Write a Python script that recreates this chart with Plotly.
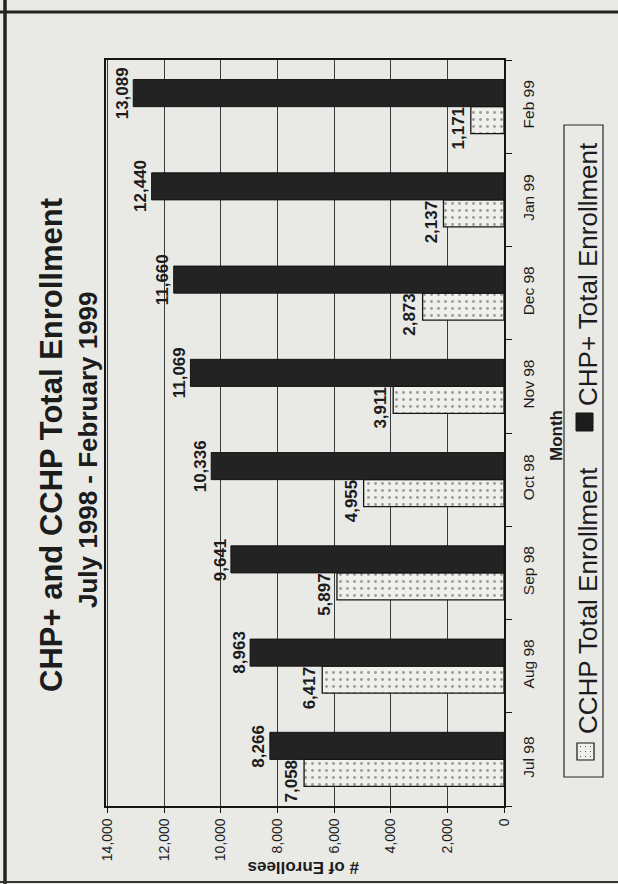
import plotly.graph_objects as go

# ---------------- data ----------------
months = ["Jul 98", "Aug 98", "Sep 98", "Oct 98", "Nov 98", "Dec 98", "Jan 99", "Feb 99"]
cchp_total = [7058, 6417, 5897, 4955, 3911, 2873, 2137, 1171]
chp_plus_total = [8266, 8963, 9641, 10336, 11069, 11660, 12440, 13089]
x_tick_values = [0, 2000, 4000, 6000, 8000, 10000, 12000, 14000]
x_tick_labels = ["0", "2,000", "4,000", "6,000", "8,000", "10,000", "12,000", "14,000"]
series_names = ["CCHP Total Enrollment", "CHP+ Total Enrollment"]
title_text = "CHP+ and CCHP Total Enrollment"
subtitle_text = "July 1998 - February 1999"
x_title = "# of Enrollees"
y_title = "Month"

# ---------------- geometry helpers ----------------
W, H = 618, 884
L, R, T, B = 106, 114, 60, 78
PW, PH = W - L - R, H - T - B


def xp(px):
    return (px - L) / PW


def yp(py):
    return (H - B - py) / PH


FONT = "Liberation Sans, Arial, sans-serif"
BG = "#e9e9e6"
INK = "#1c1c1c"

fig = go.Figure()
fig.add_bar(
    y=months, x=cchp_total, orientation="h", name=series_names[0],
    marker=dict(color="#efefec", line=dict(color="#151515", width=1.3),
                pattern=dict(shape=".", fgcolor="#4a4a4a", bgcolor="#efefec",
                             size=7, solidity=0.14)),
)
fig.add_bar(
    y=months, x=chp_plus_total, orientation="h", name=series_names[1],
    marker=dict(color="#232323", line=dict(color="#151515", width=1)),
)

annotations = []
off = (1 - 0.42) / 4
for i, (a, b) in enumerate(zip(cchp_total, chp_plus_total)):
    annotations.append(dict(x=b, y=i + off, xref="x", yref="y", text=f"{b:,}",
                            textangle=-90, showarrow=False, xanchor="center",
                            yanchor="middle", xshift=-11,
                            font=dict(family=FONT, size=17, color=INK, weight="bold")))
    annotations.append(dict(x=a, y=i - off, xref="x", yref="y", text=f"{a:,}",
                            textangle=-90, showarrow=False, xanchor="center",
                            yanchor="middle", xshift=-12.5, yshift=-8,
                            font=dict(family=FONT, size=17, color=INK, weight="bold")))

# titles
annotations += [
    dict(x=xp(51), y=yp(445), xref="paper", yref="paper", text=f"<b>{title_text}</b>",
         textangle=-90, showarrow=False, xanchor="center", yanchor="middle",
         font=dict(family=FONT, size=31, color=INK)),
    dict(x=xp(88), y=yp(450), xref="paper", yref="paper", text=f"<b>{subtitle_text}</b>",
         textangle=-90, showarrow=False, xanchor="center", yanchor="middle",
         font=dict(family=FONT, size=26, color=INK)),
    dict(x=xp(556), y=yp(436), xref="paper", yref="paper", text=f"<b>{y_title}</b>",
         textangle=-90, showarrow=False, xanchor="center", yanchor="middle",
         font=dict(family=FONT, size=17, color=INK)),
    dict(x=xp(304), y=yp(868), xref="paper", yref="paper", text=f"<b>{x_title}</b>",
         textangle=180, showarrow=False, xanchor="center", yanchor="middle",
         font=dict(family=FONT, size=17, color=INK)),
    # legend texts
    dict(x=xp(588), y=yp(601), xref="paper", yref="paper", text=series_names[0],
         textangle=-90, showarrow=False, xanchor="center", yanchor="middle",
         font=dict(family=FONT, size=26, color=INK)),
    dict(x=xp(588), y=yp(274), xref="paper", yref="paper", text=series_names[1],
         textangle=-90, showarrow=False, xanchor="center", yanchor="middle",
         font=dict(family=FONT, size=26, color=INK)),
]

shapes = [
    # legend box
    dict(type="rect", xref="paper", yref="paper", x0=xp(564), x1=xp(603), y0=yp(777), y1=yp(125),
         line=dict(color="#2a2a2a", width=1.2), fillcolor="rgba(0,0,0,0)"),
    # legend markers
    dict(type="rect", xref="paper", yref="paper", x0=xp(577), x1=xp(594), y0=yp(760), y1=yp(743),
         line=dict(color="#151515", width=1.2), fillcolor="#efefec"),
    dict(type="rect", xref="paper", yref="paper", x0=xp(576), x1=xp(593), y0=yp(431), y1=yp(413),
         line=dict(color="#151515", width=1), fillcolor="#1c1c1c"),
    # outer page frame
    dict(type="line", xref="paper", yref="paper", x0=xp(5), x1=xp(5), y0=yp(0), y1=yp(884),
         line=dict(color="#222", width=3.5)),
    dict(type="line", xref="paper", yref="paper", x0=xp(0), x1=xp(618), y0=yp(12), y1=yp(12),
         line=dict(color="#222", width=3)),
    dict(type="line", xref="paper", yref="paper", x0=xp(0), x1=xp(618), y0=yp(882), y1=yp(882),
         line=dict(color="#333", width=2)),
]
# dots inside CCHP legend marker
for dx in (580.5, 585.5, 590.5):
    for dy in (746.5, 751.5, 756.5):
        shapes.append(dict(type="circle", xref="paper", yref="paper",
                           x0=xp(dx - 0.6), x1=xp(dx + 0.6), y0=yp(dy + 0.6), y1=yp(dy - 0.6),
                           line=dict(width=0), fillcolor="#4a4a4a"))

fig.update_layout(
    width=W, height=H,
    margin=dict(l=L, r=R, t=T, b=B),
    paper_bgcolor=BG, plot_bgcolor=BG,
    barmode="group", bargap=0.42, bargroupgap=0,
    showlegend=False,
    annotations=annotations,
    shapes=shapes,
    xaxis=dict(range=[14050, 0], tickvals=x_tick_values, ticktext=x_tick_labels,
               tickangle=-90, showgrid=True, gridcolor="#3a3a3a", gridwidth=1,
               showline=True, linecolor="#151515", linewidth=1.5, mirror=True,
               ticks="outside", ticklen=5, tickcolor="#151515", zeroline=False,
               tickfont=dict(family=FONT, size=14, color=INK)),
    yaxis=dict(type="category", categoryorder="array", categoryarray=months,
               side="right", tickangle=-90, ticks="outside", ticklen=6,
               tickcolor="#151515", tickson="boundaries", showgrid=False,
               showline=True, linecolor="#151515", linewidth=1.5, mirror=True,
               ticklabelstandoff=10,
               tickfont=dict(family=FONT, size=15.5, color=INK)),
)

fig.write_html("out.html")
